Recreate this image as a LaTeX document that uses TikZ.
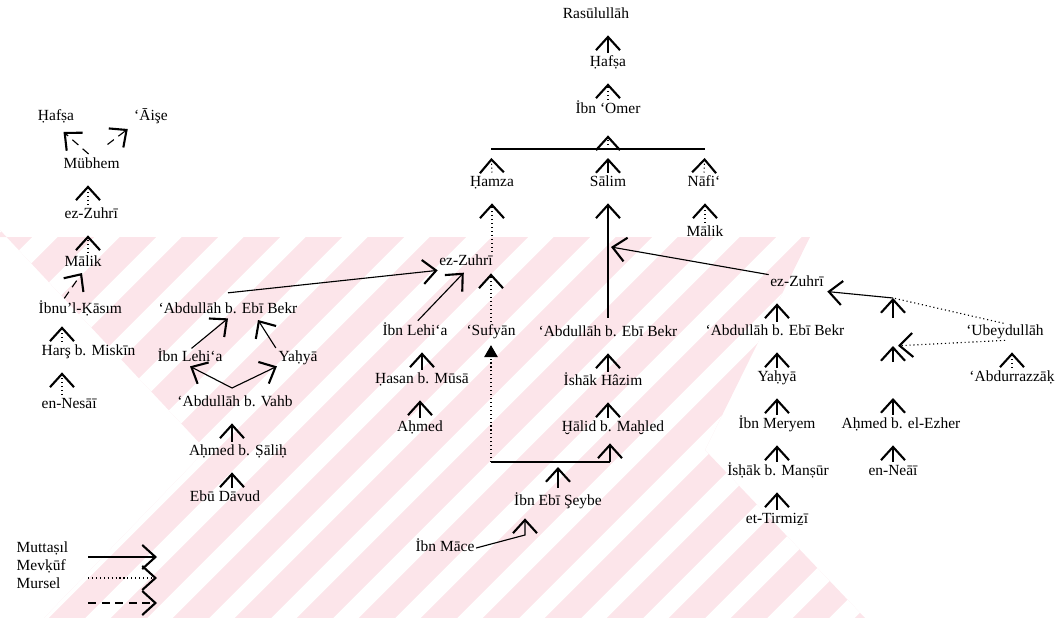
\documentclass[tikz,border=0pt]{standalone}
\usepackage{fontspec}
\setmainfont{Liberation Serif}
\usetikzlibrary{arrows.meta,positioning}
\definecolor{wmpink}{RGB}{252,229,234}
\tikzset{ravi/.style={font=\fontsize{11}{13}\selectfont,inner sep=1pt,text height=7.5pt,text depth=2pt},
barb/.tip={Straight Barb[length=3.3mm,width=6mm,line width=1.5pt]},
muttasil/.style={line width=0.8pt,-barb},
mevkuf/.style={line width=0.8pt,dotted,-barb},
mursel/.style={line width=0.8pt,dash pattern=on 2mm off 1.4mm,-barb},
vert/.style={shorten <=0.5mm,shorten >=3mm}}

\begin{document}
\begin{tikzpicture}[x=0.025cm,y=-0.025cm]
\useasboundingbox (0,0) rectangle (1061,618);

% Watermark in the background
\begin{scope}
\clip (0,237) -- (810,237) -- (705,450) -- (865,618) -- (44,618) -- (206,450) -- (0,230) -- cycle;
\fill[wmpink] (0,230) rectangle (870,618);
\foreach \a in {-420,-358,...,900} \draw[white,line width=0.45cm] (\a,640) -- (\a+420,220);
\end{scope}

% Columns for the short arrows
\coordinate (colA) at (88,0); \coordinate (colB) at (62,0);
\coordinate (colV) at (232,0); \coordinate (colR) at (777,0);

% Top chain
\node[ravi] (rasul) at (596,15) {Rasūlullāh};
\node[ravi] (hafsaT) at (608,63) {Ḥafṣa};
\node[ravi] (ibnomer) at (608,110) {İbn ‘Omer};
\coordinate (barL) at (491,149); \coordinate (barM) at (608,149); \coordinate (barR) at (705,149);
\node[ravi] (hamza) at (492,183) {Ḥamza};
\node[ravi] (salim) at (608,183) {Sālim};
\node[ravi] (nafi) at (704,183) {Nāfi‘};
\node[ravi] (malikT) at (705,233) {Mālik};

\draw[muttasil,vert] (hafsaT.north) -- (rasul.south -| hafsaT.north);
\draw[mevkuf,vert] (ibnomer.north) -- (hafsaT.south);
\draw[line width=0.8pt] (barL) -- (barR);
\draw[mevkuf,shorten >=4.25mm] (barM) -- (ibnomer.south);
\foreach \n/\c/\s in {hamza/barL/mevkuf,salim/barM/muttasil,nafi/barR/mevkuf}
  \draw[\s,shorten <=0.5mm,shorten >=2.25mm] (\n.north) -- (\c);
\draw[mevkuf,vert] (malikT.north) -- (nafi.south -| malikT.north);

% Middle tree
\node[ravi] (ezzuhriM) at (466,262) {ez-Zuhrī};
\node[ravi] (ibnlehiaM) at (415,332) {İbn Lehi‘a};
\node[ravi] (sufyan) at (491,332) {‘Sufyān};
\node[ravi] (abdM) at (608,333) {‘Abdullāh b. Ebī Bekr};
\node[ravi] (hasan) at (422,380) {Ḥasan b. Mūsā};
\node[ravi] (ahmedM) at (420,428) {Aḥmed};
\node[ravi] (ishak) at (603,382) {İshāk Hâzim};
\node[ravi] (halid) at (613,428) {Ḫālid b. Maḫled};
\node[ravi] (ibnebi) at (558,502) {İbn Ebī Şeybe};
\node[ravi] (ibnmace) at (445,548) {İbn Māce};

\draw[mevkuf,vert] (ezzuhriM.north -| hamza) -- (hamza.south);
\draw[muttasil,shorten <=1.75mm,shorten >=3mm] (abdM.north) -- (salim.south);
\draw[muttasil,shorten <=1mm,shorten >=0.8mm] (ibnlehiaM.north) -- (ezzuhriM.south);
\draw[mevkuf,shorten <=0.5mm,shorten >=0.75mm] (sufyan.north) -- (ezzuhriM.south -| sufyan.north);
\draw[muttasil,vert] (hasan.north) -- (ibnlehiaM.south -| hasan.north);
\draw[muttasil,vert] (ahmedM.north) -- (hasan.south -| ahmedM.north);
\draw[muttasil,vert] (ishak.north -| abdM) -- (abdM.south);
\draw[muttasil,vert] (halid.north -| abdM) -- (ishak.south -| abdM);

% Sufyan's way round
\coordinate (sbarL) at (491,462); \coordinate (sbarR) at (610,462);
\draw[line width=0.8pt] (sbarL) -- (sbarR);
\draw[muttasil,shorten >=1.75mm] (sbarR) -- (halid.south -| sbarR);
\draw[line width=0.8pt,dotted,-{Triangle[length=3mm,width=3.4mm]},shorten >=1.2mm] (sbarL) -- (sufyan.south);
\draw[muttasil,shorten <=1.5mm,shorten >=1.25mm] (ibnebi.north) -- (sbarL -| ibnebi.north);
\coordinate (maceJ) at (525,535);
\draw[muttasil,shorten >=2mm] (ibnmace.east) -- (maceJ) -- (ibnebi.south -| maceJ);

% Left middle tree
\node[ravi] (abdL) at (228,310) {‘Abdullāh b. Ebī Bekr};
\node[ravi] (ibnlehiaL) at (190,358) {İbn Lehi‘a};
\node[ravi] (yahyaL) at (298,358) {Yaḥyā};
\node[ravi] (vahb) at (235,403) {‘Abdullāh b. Vahb};
\node[ravi] (ahmedsalih) at (238,452) {Aḥmed b. Ṣāliḥ};
\node[ravi] (ebudavud) at (225,498) {Ebū Dāvud};

\coordinate[above=2.2mm of abdL.north] (abdLtop);
\draw[muttasil] (abdLtop) -- (ezzuhriM.south west);
\coordinate (abdLin) at (258,320);
\draw[muttasil,shorten <=0.5mm] (ibnlehiaL.north) -- (abdL.south);
\draw[muttasil,shorten <=0.5mm] (yahyaL.north west) -- (abdLin);
\coordinate (vahbJ) at (232,388);
\draw[muttasil] (vahbJ) -- (ibnlehiaL.south);
\draw[muttasil] (vahbJ) -- (yahyaL.south west);
\draw[muttasil,vert] (ahmedsalih.north -| colV) -- (vahb.south -| colV);
\draw[muttasil,vert] (ebudavud.north -| colV) -- (ahmedsalih.south -| colV);

% Right tree
\node[ravi] (ezzuhriR) at (797,283) {ez-Zuhrī};
\node[ravi] (abdR) at (775,332) {‘Abdullāh b. Ebī Bekr};
\node[ravi] (yahyaR) at (777,378) {Yaḥyā};
\node[ravi] (ibnmeryem) at (777,425) {İbn Meryem};
\node[ravi] (ishakR) at (778,472) {İsḥāk b. Manṣūr};
\node[ravi] (tirmizi) at (777,520) {et-Tirmiẕī};
\foreach \a/\b in {abdR/ezzuhriR,yahyaR/abdR,ibnmeryem/yahyaR,ishakR/ibnmeryem,tirmizi/ishakR}
  \draw[muttasil,vert] (\a.north -| colR) -- (\b.south -| colR);
\coordinate (salimIn) at (611,247);
\draw[muttasil] (ezzuhriR.north west) -- (salimIn);

% Ubeydullah and the unnamed links
\node[ravi] (ubeyd) at (1005,332) {‘Ubeydullāh};
\node[ravi] (abdurrazzak) at (1012,378) {‘Abdurrazzāḳ};
\node[ravi] (ahmedezher) at (901,425) {Aḥmed b. el-Ezher};
\node[ravi] (neai) at (893,472) {en-Neāī};
\coordinate (jTop) at (893,298); \coordinate (jTopS) at (893,318);
\coordinate (jMid) at (893,346); \coordinate (jMidS) at (893,362);
\coordinate (jLow) at (893,398);
\draw[muttasil,line width=1.6pt] (jTopS) -- (jTop);
\draw[muttasil,shorten >=0.5mm] (jTop) -- (ezzuhriR.south east);
\draw[line width=0.8pt,dotted,shorten <=0.5mm] (jTop) -- (ubeyd.north);
\draw[muttasil] (jMidS) -- (jMid);
\draw[mevkuf,shorten >=1.25mm] (ubeyd.south) -- (jMid);
\draw[mevkuf,vert] (abdurrazzak.north) -- (ubeyd.south -| abdurrazzak.north);
\draw[muttasil,shorten <=0.5mm] (ahmedezher.north -| jLow) -- (jLow);
\draw[muttasil,vert] (neai.north) -- (ahmedezher.south -| neai.north);

% Left chain
\node[ravi] (hafsaL) at (56,117) {Ḥafṣa};
\node[ravi] (aise) at (151,117) {‘Āişe};
\node[ravi,anchor=west] (mubhem) at (62,165) {Mübhem};
\node[ravi,anchor=west] (ezzuhriL) at (63,215) {ez-Zuhrī};
\node[ravi,anchor=west] (malikL) at (63,263) {Mālik};
\node[ravi,anchor=west] (ibnukasim) at (37,310) {İbnu’l-Ḳāsım};
\node[ravi,anchor=west] (hars) at (40,352) {Harş b. Miskīn};
\node[ravi,anchor=west] (nesai) at (40,405) {en-Nesāī};
\draw[mursel,shorten <=1mm,shorten >=2.5mm] (mubhem.north) -- (hafsaL.south);
\draw[mursel,shorten <=5mm,shorten >=1.5mm] (mubhem.north) -- (aise.south west);
\draw[mevkuf,vert] (ezzuhriL.north -| colA) -- (mubhem.south -| colA);
\draw[mevkuf,vert] (malikL.north -| colA) -- (ezzuhriL.south -| colA);
\draw[mursel,shorten <=1mm,shorten >=0.5mm] (ibnukasim.north -| colB) -- (malikL.south);
\draw[mevkuf,shorten <=0.5mm,shorten >=2mm] (hars.north -| colB) -- (ibnukasim.south -| colB);
\draw[mevkuf,vert] (nesai.north -| colB) -- (hars.south -| colB);

% Legend
\foreach \lbl/\ty/\ly/\sty in {Muttaṣıl/549/557/muttasil,Mevḳūf/567/578/mevkuf,Mursel/585/603/mursel}{
  \node[ravi,anchor=west] (\sty Lbl) at (15,\ty) {\lbl};
  \coordinate (\sty A) at (88,\ly); \coordinate (\sty B) at (157,\ly);
  \draw[\sty] (\sty A) -- (\sty B);
}
\end{tikzpicture}
\end{document}
